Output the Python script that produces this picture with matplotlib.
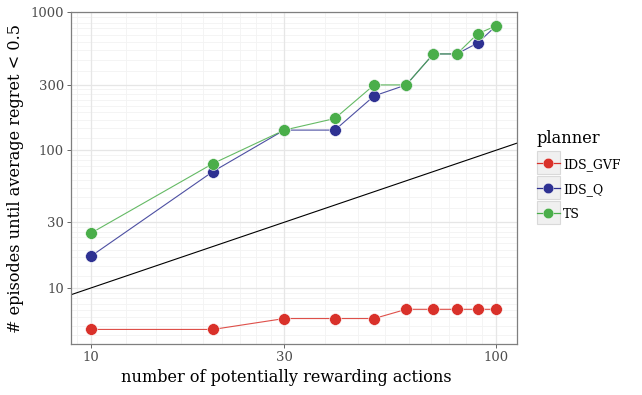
import numpy as np
import matplotlib
matplotlib.use("Agg")
import matplotlib.pyplot as plt
from matplotlib.legend_handler import HandlerLine2D
from matplotlib.patches import Rectangle
from matplotlib.lines import Line2D

plt.rcParams['font.family'] = ['DejaVu Serif']

# data
n_actions = [10, 20, 30, 40, 50, 60, 70, 80, 90, 100]
ids_gvf = [5, 5, 6, 6, 6, 7, 7, 7, 7, 7]
ids_q = [17, 70, 140, 140, 248, 298, 500, 500, 600, 800]
ts = [25, 80, 140, 170, 298, 298, 500, 500, 700, 800]

planners = ['IDS_GVF', 'IDS_Q', 'TS']
colors = ['#d9312a', '#2e3192', '#4aae4a']
series = [ids_gvf, ids_q, ts]

x_major = [10, 30, 100]
y_major = [10, 30, 100, 300, 1000]
xlim = (8.93, 112.6)
ylim = (3.92, 1008)


def minor_breaks(lo, hi):
    # plotnine style: 8 linear steps between consecutive major breaks
    full = [1, 3, 10, 30, 100, 300, 1000, 3000]
    out = []
    for a, b in zip(full[:-1], full[1:]):
        for v in np.linspace(a, b, 10)[1:-1]:
            if lo < v < hi:
                out.append(v)
    return out


class KeyHandler(HandlerLine2D):
    def create_artists(self, legend, orig_handle, xdescent, ydescent,
                       width, height, fontsize, trans):
        side = width
        yc = (height - ydescent) / 2.0
        bg = Rectangle((-xdescent, yc - side / 2.0), side, side,
                       facecolor='#f0f0f0', edgecolor='#d9d9d9', lw=0.8,
                       transform=trans)
        arts = super().create_artists(legend, orig_handle, xdescent, ydescent,
                                      width, height, fontsize, trans)
        return [bg] + arts


fig = plt.figure(figsize=(6.42, 3.95), dpi=100)
ax = fig.add_axes([71 / 642, 51 / 395, 446 / 642, 332 / 395])
ax.set_xscale('log')
ax.set_yscale('log')
ax.set_xlim(*xlim)
ax.set_ylim(*ylim)

for v in minor_breaks(*xlim):
    ax.axvline(v, color='#f3f3f3', lw=0.6, zorder=0)
for v in minor_breaks(*ylim):
    ax.axhline(v, color='#f3f3f3', lw=0.6, zorder=0)
for v in x_major:
    ax.axvline(v, color='#e6e6e6', lw=0.9, zorder=0.5)
for v in y_major:
    ax.axhline(v, color='#e6e6e6', lw=0.9, zorder=0.5)

# y = x reference line
ax.plot(xlim, xlim, color='black', lw=0.8, zorder=1)

handles = []
for name, col, vals in zip(planners, colors, series):
    ax.plot(n_actions, vals, color=col, lw=0.8, alpha=0.85, zorder=2)
    ax.plot(n_actions, vals, 'o', color=col, ms=8.5, mec='white', mew=0.4, zorder=3)
    handles.append(Line2D([], [], color=col, lw=0.9, marker='o', ms=7.5,
                          mec='white', mew=0.3))

ax.xaxis.set_minor_locator(matplotlib.ticker.NullLocator())
ax.yaxis.set_minor_locator(matplotlib.ticker.NullLocator())
ax.set_xticks(x_major)
ax.set_xticklabels([str(v) for v in x_major])
ax.set_yticks(y_major)
ax.set_yticklabels([str(v) for v in y_major])
ax.tick_params(axis='both', colors='#4d4d4d', labelsize=9.5, length=3, width=0.6,
               labelcolor='#4d4d4d', pad=2)

for s in ax.spines.values():
    s.set_color('#7f7f7f')
    s.set_linewidth(0.9)

ax.set_xlabel('number of potentially rewarding actions', fontsize=11.6, labelpad=4)
ax.xaxis.set_label_coords(0.482, -0.075)
ax.set_ylabel('# episodes until average regret < 0.5', fontsize=11.6, labelpad=5)

leg = fig.legend(handles, planners, title='planner', loc='upper left',
                 bbox_to_anchor=(537 / 642, 1 - 130 / 395), frameon=False,
                 fontsize=9, title_fontsize=11.7, handlelength=1.8,
                 handleheight=1.5, labelspacing=0.78, handletextpad=0.3,
                 borderaxespad=0, borderpad=0,
                 handler_map={Line2D: KeyHandler()})
leg._legend_box.align = 'left'

fig.savefig('out.png', dpi=100)
